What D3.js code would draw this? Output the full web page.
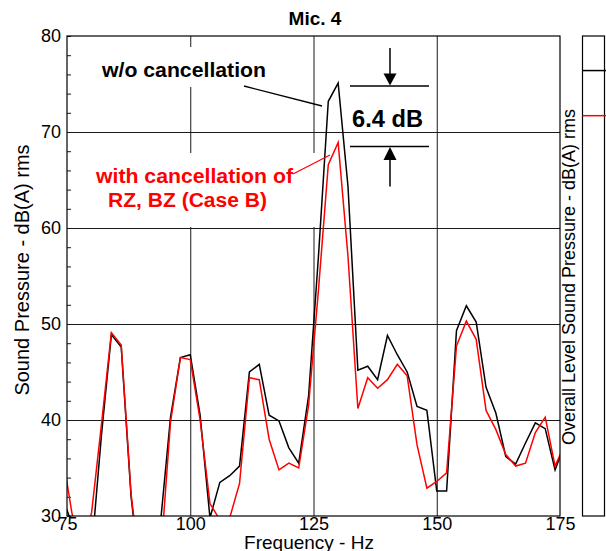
<!DOCTYPE html>
<html lang="en">
<head>
  <meta charset="UTF-8" />
  <title>Mic. 4</title>
  <script src="https://d3js.org/d3.v7.min.js"></script>
  <style>
    body {
      margin: 0;
      background: #ffffff;
      font-family: 'Liberation Sans', Arial, sans-serif;
    }
    svg { display: block; }
    .axis path { display: none; }
    .grid line { stroke: #1a1a1a; stroke-width: 1; }
    .ticklbl text { font-size: 18px; fill: #000; }
  </style>
</head>
<body>
  <svg width="606" height="551"></svg>

  <script>
    // spectrum, every 2 Hz (values below 30 dB fall off the plot)
    const freqs = [74, 76, 78, 80, 82, 84, 86, 88, 90, 92, 94, 96, 98, 100, 102, 104, 106, 108, 110, 112,
                   114, 116, 118, 120, 122, 124, 126, 128, 130, 132, 134, 136, 138, 140, 142, 144, 146, 148, 150, 152,
                   154, 156, 158, 160, 162, 164, 166, 168, 170, 172, 174, 176];
    const woCancel = [32.0, 29.2, 27.0, 26.4, 38.5, 48.9, 47.6, 32.0, 23.0, 24.0, 29.5, 40.3, 46.5, 46.8, 40.5, 29.8, 33.5, 34.2, 35.2, 45.0,
                      45.8, 40.5, 39.9, 37.1, 35.5, 42.5, 57.0, 73.2, 75.1, 64.3, 45.2, 45.6, 44.2, 48.8, 46.8, 45.0, 41.4, 41.0, 32.6, 32.6,
                      49.3, 51.9, 50.2, 43.4, 40.7, 36.2, 35.4, 37.6, 39.7, 39.1, 34.8, 37.5];
    const withCancel = [36.6, 30.3, 26.0, 30.4, 39.6, 49.1, 47.8, 32.3, 23.4, 24.0, 25.7, 39.8, 46.5, 46.3, 40.0, 31.3, 29.6, 29.8, 33.4, 44.4,
                        44.2, 38.0, 34.8, 35.5, 35.0, 41.5, 53.5, 66.6, 68.9, 57.0, 41.2, 44.4, 43.3, 44.2, 45.8, 44.6, 37.4, 32.9, 33.6, 34.5,
                        47.7, 50.3, 48.4, 41.0, 39.0, 36.4, 35.2, 35.5, 38.7, 40.3, 35.2, 37.5];

    // overall level: [w/o, with]
    const overallLevels = [76.4, 71.7];
    const overallColors = ["#000000", "#ff0000"];

    // levels marked by the 6.4 dB dimension lines
    const peakMarks = [74.8, 68.5];

    const xTicks = [75, 100, 125, 150, 175];
    const yTicks = [30, 40, 50, 60, 70, 80];
    const yMinor = [30, 32, 34, 36, 38, 40, 42, 44, 46, 48, 50, 52, 54, 56, 58, 60, 62, 64, 66, 68, 70, 72, 74, 76, 78, 80];

    const pL = 67, pR = 560, pT = 36, pB = 516;
    const x = d3.scaleLinear().domain([75, 175]).range([pL, pR]);
    const y = d3.scaleLinear().domain([30, 80]).range([pB, pT]);

    const svg = d3.select("svg");

    svg.append("defs").append("clipPath").attr("id", "plotclip")
      .append("rect").attr("x", pL).attr("y", pT)
      .attr("width", pR - pL).attr("height", pB - pT);

    // grid
    svg.append("g").attr("class", "axis grid")
      .attr("transform", `translate(0,${pB})`)
      .call(d3.axisBottom(x).tickValues([100, 125, 150]).tickSize(-(pB - pT)).tickFormat(""));
    svg.append("g").attr("class", "axis grid")
      .attr("transform", `translate(${pL},0)`)
      .call(d3.axisLeft(y).tickValues([40, 50, 60, 70]).tickSize(-(pR - pL)).tickFormat(""));

    // minor ticks on the left, pointing inward
    svg.append("g").attr("class", "axis grid")
      .attr("transform", `translate(${pL},0)`)
      .call(d3.axisLeft(y).tickValues(yMinor).tickSize(-4).tickFormat(""));

    // white boxes behind the labels (they hide the grid)
    svg.append("rect").attr("x", 97).attr("y", 47).attr("width", 172).attr("height", 40).attr("fill", "#fff");
    svg.append("rect").attr("x", 92).attr("y", 153).attr("width", 224).attr("height", 74).attr("fill", "#fff");

    // series
    const line = d3.line().x((d, i) => x(freqs[i])).y(d => y(d));
    const plot = svg.append("g").attr("clip-path", "url(#plotclip)");
    plot.append("path").datum(woCancel)
      .attr("d", line).attr("fill", "none").attr("stroke", "#000").attr("stroke-width", 1.5)
      .attr("stroke-linejoin", "miter");
    plot.append("path").datum(withCancel)
      .attr("d", line).attr("fill", "none").attr("stroke", "#ff0000").attr("stroke-width", 1.5)
      .attr("stroke-linejoin", "miter");

    // frame
    svg.append("rect").attr("x", pL).attr("y", pT)
      .attr("width", pR - pL).attr("height", pB - pT)
      .attr("fill", "none").attr("stroke", "#000").attr("stroke-width", 1.2);

    // tick labels
    svg.append("g").attr("class", "axis ticklbl")
      .attr("transform", `translate(${pL},0)`)
      .call(d3.axisLeft(y).tickValues(yTicks).tickSize(0).tickPadding(6).tickFormat(d3.format("d")));
    svg.append("g").attr("class", "axis ticklbl")
      .attr("transform", `translate(0,${pB})`)
      .call(d3.axisBottom(x).tickValues(xTicks).tickSize(0).tickPadding(1).tickFormat(d3.format("d")));
    svg.selectAll(".ticklbl text").style("font-family", "'Liberation Sans', Arial, sans-serif");

    // titles
    svg.append("text").attr("x", 315).attr("y", 25).attr("text-anchor", "middle")
      .attr("font-size", 19).attr("font-weight", "bold").text("Mic. 4");
    svg.append("text").attr("x", 309).attr("y", 549).attr("text-anchor", "middle")
      .attr("font-size", 19).text("Frequency - Hz");
    svg.append("text").attr("transform", "rotate(-90)")
      .attr("x", -270).attr("y", 29).attr("text-anchor", "middle")
      .attr("font-size", 20).text("Sound Pressure  -  dB(A) rms");
    svg.append("text").attr("transform", "rotate(-90)")
      .attr("x", -277).attr("y", 575).attr("text-anchor", "middle")
      .attr("font-size", 18).text("Overall Level Sound Pressure  -  dB(A) rms");

    // overall level panel
    const barL = 582.5, barR = 604.5;
    svg.append("rect").attr("x", barL).attr("y", pT).attr("width", barR - barL).attr("height", pB - pT)
      .attr("fill", "#fff").attr("stroke", "#000").attr("stroke-width", 1.2);
    svg.selectAll(".overall").data(overallLevels).join("line").attr("class", "overall")
      .attr("x1", barL).attr("x2", barR + 2)
      .attr("y1", d => y(d)).attr("y2", d => y(d))
      .attr("stroke", (d, i) => overallColors[i]).attr("stroke-width", 1.5);

    // annotations
    svg.append("text").attr("x", 102).attr("y", 77)
      .attr("font-size", 20).attr("font-weight", "bold")
      .attr("textLength", 164).attr("lengthAdjust", "spacingAndGlyphs")
      .text("w/o cancellation");
    svg.append("line").attr("x1", 244).attr("y1", 86).attr("x2", 322).attr("y2", 106)
      .attr("stroke", "#000").attr("stroke-width", 1.3);

    svg.append("text").attr("x", 96).attr("y", 183)
      .attr("font-size", 20).attr("font-weight", "bold").attr("fill", "#ff0000")
      .attr("textLength", 197).attr("lengthAdjust", "spacingAndGlyphs")
      .text("with cancellation of");
    svg.append("text").attr("x", 108).attr("y", 207)
      .attr("font-size", 20).attr("font-weight", "bold").attr("fill", "#ff0000")
      .attr("textLength", 159).attr("lengthAdjust", "spacingAndGlyphs")
      .text("RZ, BZ (Case B)");
    svg.append("line").attr("x1", 293).attr("y1", 174).attr("x2", 330).attr("y2", 155)
      .attr("stroke", "#ff0000").attr("stroke-width", 1.3);

    svg.append("text").attr("x", 352).attr("y", 127)
      .attr("font-size", 23).attr("font-weight", "bold")
      .attr("textLength", 71).attr("lengthAdjust", "spacingAndGlyphs")
      .text("6.4 dB");

    const ax = 390;
    svg.selectAll(".dim").data(peakMarks).join("line").attr("class", "dim")
      .attr("x1", 350).attr("x2", 429)
      .attr("y1", d => y(d)).attr("y2", d => y(d))
      .attr("stroke", "#000").attr("stroke-width", 1.5);
    // arrow from above pointing down to the upper mark
    const yt = y(peakMarks[0]);
    svg.append("line").attr("x1", ax).attr("x2", ax).attr("y1", yt - 38).attr("y2", yt - 10)
      .attr("stroke", "#000").attr("stroke-width", 1.5);
    svg.append("path").attr("d", `M${ax - 6.5},${yt - 12.5}L${ax + 6.5},${yt - 12.5}L${ax},${yt - 0.5}Z`).attr("fill", "#000");
    // arrow from below pointing up to the lower mark
    const yb = y(peakMarks[1]);
    svg.append("line").attr("x1", ax).attr("x2", ax).attr("y1", yb + 10).attr("y2", yb + 40)
      .attr("stroke", "#000").attr("stroke-width", 1.5);
    svg.append("path").attr("d", `M${ax - 6.5},${yb + 13.5}L${ax + 6.5},${yb + 13.5}L${ax},${yb + 0.5}Z`).attr("fill", "#000");
  </script>
</body>
</html>
